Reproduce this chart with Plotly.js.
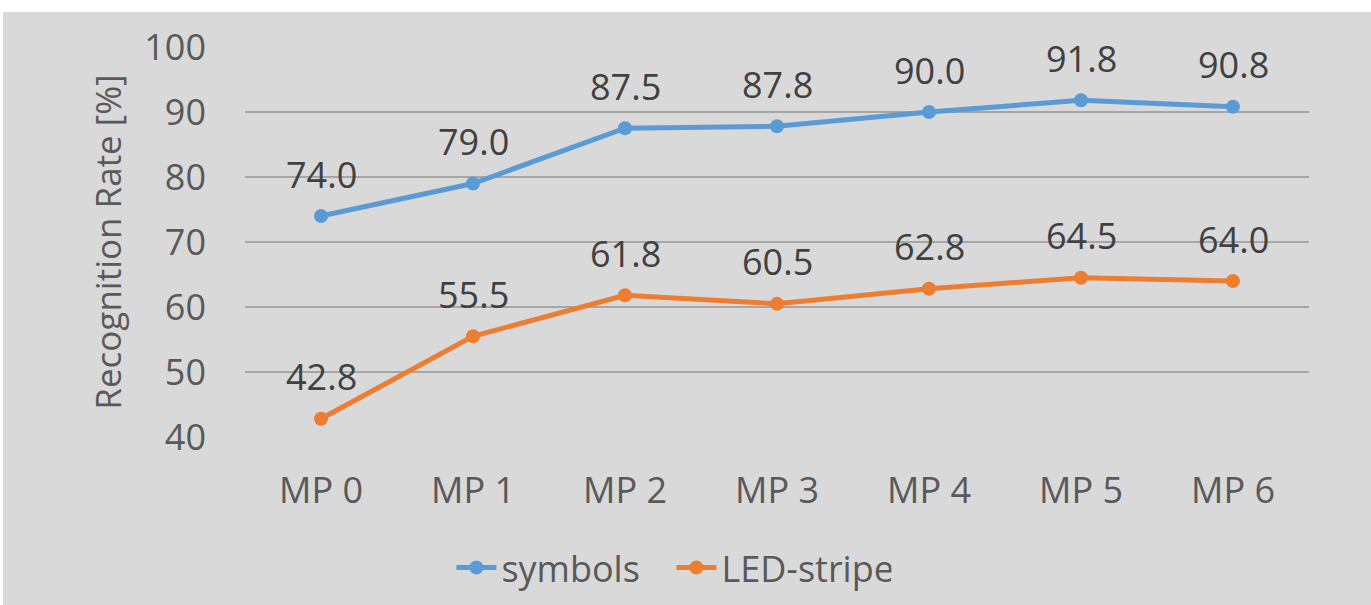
<!DOCTYPE html>
<html><head><meta charset="utf-8">
<script src="https://cdn.plot.ly/plotly-3.0.1.min.js"></script>
<style>html,body{margin:0;padding:0;background:#fff;}#c{position:absolute;left:3px;top:12px;width:1368px;height:593px;}</style>
</head><body><div id="c"></div>
<script>
const categories = ["MP 0","MP 1","MP 2","MP 3","MP 4","MP 5","MP 6"];
const symbols = [74.0,79.0,87.5,87.8,90.0,91.8,90.8];
const ledStripe = [42.8,55.5,61.8,60.5,62.8,64.5,64.0];
const yTicks = [40,50,60,70,80,90,100];
const F = "Open Sans, sans-serif";
function tr(name, y, color){
  return {x:categories, y:y, name:name, type:'scatter', mode:'lines+markers',
    line:{color:color,width:5}, marker:{color:color,size:14}, cliponaxis:false};
}
const data=[tr('symbols',symbols,'#5b9bd5'), tr('LED-stripe',ledStripe,'#ed7d31')];
const annotations=[];
[symbols,ledStripe].forEach(arr=>arr.forEach((v,i)=>annotations.push({
  x:categories[i], y:v, xref:'x', yref:'y', text:v.toFixed(1), showarrow:false,
  yshift:42, font:{family:F,size:36,color:'#404040'}})));
const layout={
  width:1368,height:593,paper_bgcolor:'#d9d9d9',plot_bgcolor:'#d9d9d9',
  margin:{l:242,r:62,t:35,b:168,autoexpand:false},
  font:{family:F,color:'#595959',size:36},
  annotations:annotations,
  xaxis:{type:'category',range:[-0.5,6.5],showgrid:false,zeroline:false,showline:false,
    ticks:'',ticklabelstandoff:29,tickfont:{size:36,color:'#595959'}},
  yaxis:{range:[40,100],tickvals:yTicks,showgrid:true,gridcolor:'#a6a6a6',gridwidth:2,
    zeroline:false,showline:false,ticks:'',ticklabelstandoff:38,tickfont:{size:36,color:'#595959'},
    title:{text:'Recognition Rate [%]',font:{size:35,color:'#595959'},standoff:11}},
  showlegend:true,
  legend:{orientation:'h',x:0.194,xanchor:'left',y:-0.335,yanchor:'middle',
    entrywidth:165, entrywidthmode:'pixels',
    font:{size:36,color:'#595959'},bgcolor:'rgba(0,0,0,0)',itemwidth:40,tracegroupgap:0}
};
Plotly.newPlot('c',data,layout,{displayModeBar:false});
</script></body></html>
